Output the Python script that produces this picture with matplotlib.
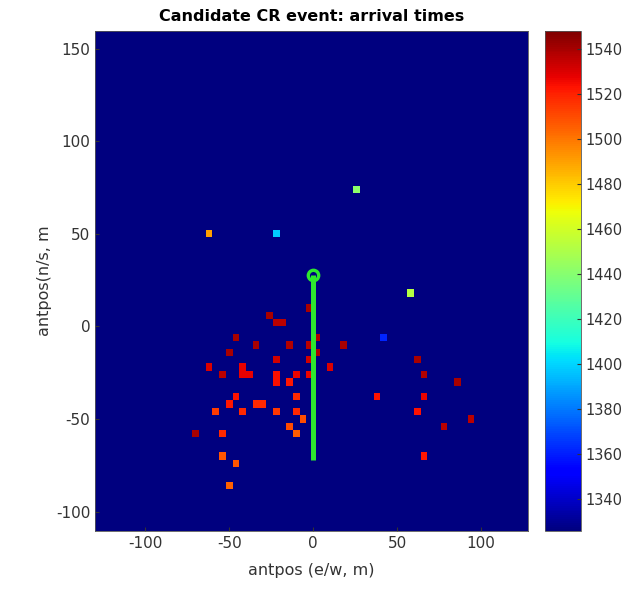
import numpy as np
import matplotlib
matplotlib.use("Agg")
import matplotlib.pyplot as plt

plt.rcParams["axes.unicode_minus"] = False

# Antenna positions (m) and arrival times
ant_x = [-26, -22, -18, -46, -34, -14, -2, 2, -50, -22, -2, 2, -62, -54,
         -42, -42, -38, -22, -22, -14, -10, -2, 10, -46, -50, -34, -30, -10,
         -58, -42, -22, -10, -6, -14, -10, -70, -54, -54, -46, -50, -2, 18,
         42, 38, 62, 66, 86, 66, 62, 94, 78, 66, 26, -62, -22, 58]
ant_y = [6, 2, 2, -6, -10, -10, -10, -6, -14, -18, -18, -14, -22, -26,
         -22, -26, -26, -26, -30, -30, -26, -26, -22, -38, -42, -42, -42, -38,
         -46, -46, -46, -46, -50, -54, -58, -58, -58, -70, -74, -86, 10, -10,
         -6, -38, -18, -26, -30, -38, -46, -50, -54, -70, 74, 50, 50, 18]
ant_t = [1540, 1536, 1536, 1540, 1540, 1538, 1536, 1538, 1540, 1532, 1532, 1538, 1530, 1536,
         1528, 1528, 1528, 1524, 1524, 1522, 1527, 1527, 1530, 1523, 1522, 1518, 1518, 1518,
         1514, 1518, 1515, 1518, 1509, 1510, 1506, 1540, 1518, 1508, 1508, 1505, 1540, 1540,
         1362, 1523, 1540, 1538, 1540, 1527, 1523, 1536, 1536, 1522, 1442, 1490, 1398, 1452]

# Shower core track on the ground
core_x = [0, 0]
core_y = [28, -72]

cbar_ticks = [1340, 1360, 1380, 1400, 1420, 1440, 1460, 1480, 1500, 1520, 1540]
t_min, t_max = 1326, 1548

# Build gridded image of arrival times (4 m cells)
cell = 4.0
x0, x1 = -132.0, 132.0
y0, y1 = -112.0, 160.0
nx = int((x1 - x0) / cell)
ny = int((y1 - y0) / cell)
img = np.full((ny, nx), float(t_min))
for x, y, t in zip(ant_x, ant_y, ant_t):
    i = int(np.floor((y - y0) / cell))
    j = int(np.floor((x - x0) / cell))
    img[i, j] = t

fig = plt.figure(figsize=(6.41, 5.92), dpi=100)
ax = fig.add_axes([95 / 641, 1 - 531 / 592, 433 / 641, 500 / 592])
cax = fig.add_axes([545 / 641, 1 - 531 / 592, 36 / 641, 500 / 592])

im = ax.imshow(img, origin="lower", extent=[x0, x1, y0, y1], cmap="jet",
               vmin=t_min, vmax=t_max, aspect="auto", interpolation="nearest")
green = "#2ee82e"
ax.plot(core_x, core_y, color=green, lw=3.6, solid_capstyle="butt")
ax.plot(core_x[0], core_y[0], marker="o", ms=7.5, mfc="none", mec=green, mew=2.4)

ax.set_xlim(-130, 128)
ax.set_ylim(-110.5, 159.5)
ax.set_xticks([-100, -50, 0, 50, 100])
ax.set_yticks([-100, -50, 0, 50, 100, 150])

text_color = "#333333"
ax.tick_params(direction="in", labelsize=11, colors=text_color, length=3)
for s in ax.spines.values():
    s.set_color("#555555")
    s.set_linewidth(0.6)
ax.set_xlabel("antpos (e/w, m)", fontsize=11.5, color=text_color, labelpad=9)
ax.set_ylabel("antpos(n/s, m", fontsize=11.5, color=text_color, labelpad=3)
ax.set_title("Candidate CR event: arrival times", fontsize=11.5, fontweight="bold",
             color="black", pad=7)

cb = fig.colorbar(im, cax=cax, ticks=cbar_ticks)
cb.ax.tick_params(direction="in", labelsize=10.5, colors=text_color, length=3)
cb.outline.set_linewidth(0.6)
cb.outline.set_edgecolor("#555555")

fig.savefig("out.png", dpi=100)
